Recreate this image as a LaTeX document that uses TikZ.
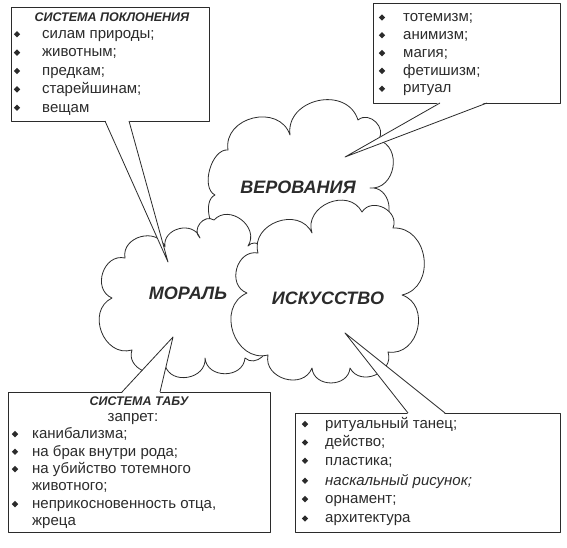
\documentclass[tikz,border=0pt]{standalone}
\usepackage{fontspec}
\setmainfont{Liberation Sans}
\usetikzlibrary{shapes.geometric}
\definecolor{ink}{HTML}{2B2B2B}
\tikzset{
  outl/.style={draw=ink, line width=0.8pt, line join=round},
  cloudpath/.style={outl, fill=white},
  boxnode/.style={outl, fill=white, anchor=north west, inner sep=0pt},
  itm/.style={anchor=base west, inner sep=0pt, text=ink, font=\fontsize{15}{18}\selectfont},
  head/.style={anchor=base, inner sep=0pt, text=ink, font=\fontsize{12.5}{15}\selectfont\bfseries\itshape},
  plain/.style={anchor=base, inner sep=0pt, text=ink, font=\fontsize{15}{18}\selectfont},
  lbl/.style={inner sep=0pt, text=ink, font=\fontsize{18}{20}\selectfont\bfseries\itshape},
  bul/.style={diamond, fill=ink, inner sep=0pt, minimum size=6.5pt},
  bump/.style={bend left=85, looseness=1.35},
  flat/.style={bend left=80, looseness=0.9},
}
\newcommand\bitem[5]{\node[bul] (#1b) at (#2,#4-4.2) {}; \node[itm] (#1) at (#3,#4) {#5};}
\begin{document}
\begin{tikzpicture}[x=1pt,y=-1pt]
\useasboundingbox (0,0) rectangle (567,547);
\fill[white] (0,0) rectangle (567,547);

% clouds
\draw[cloudpath] (215,195) to[flat] (228,150) to[bump] (290,135) to[bump] (358,120)
  to[bump] (378,140) to[bump] (370,188) to[bump] (378,225) to[bump] (330,250)
  to[bump] (270,252) to[bump] (224,234) to[flat] cycle;
\draw[cloudpath] (112,298) to[bump] (125,258) to[bump] (165,247) to[bump] (200,238)
  to[bump] (214,220) to[bump] (248,246) to[bump] (265,258) to[bump] (265,340)
  to[bump] (245,358) to[bump] (205,358) to[bump] (165,365) to[bump] (132,350) to[bump] cycle;
\draw[cloudpath] (247,293) to[bump] (258,253) to[bump] (312,233) to[bump] (362,212)
  to[bump] (393,228) to[bump] (402,295) to[bump] (388,352) to[bump] (350,368)
  to[bump] (312,368) to[bump] (268,355) to[bump] cycle;

\node[lbl] (ver) at (298,187) {ВЕРОВАНИЯ};
\node[lbl] (mor) at (188,293) {МОРАЛЬ};
\node[lbl] (isk) at (328,298) {ИСКУССТВО};

% boxes
\node[boxnode, minimum width=198pt, minimum height=114pt] (tlbox) at (11,7) {};
\node[boxnode, minimum width=187pt, minimum height=100pt] (trbox) at (373,3) {};
\node[boxnode, minimum width=262pt, minimum height=140pt] (blbox) at (8,392) {};
\node[boxnode, minimum width=265pt, minimum height=119pt] (brbox) at (295,413) {};

% callouts
\coordinate (tlA) at (105,121); \coordinate (tlB) at (129,121); \coordinate (tlT) at (168,262);
\coordinate (trA) at (440,103); \coordinate (trB) at (487,103); \coordinate (trT) at (345,157);
\coordinate (blA) at (122,392); \coordinate (blB) at (160,392); \coordinate (blT) at (173,337);
\coordinate (brA) at (408,413); \coordinate (brB) at (445,413); \coordinate (brT) at (345,333);
\foreach \c in {tl,tr}{
  \fill[white] ([yshift=1pt]\c A) -- (\c T) -- ([yshift=1pt]\c B) -- cycle;
  \draw[outl] (\c A) -- (\c T) -- (\c B);
}
\foreach \c in {bl,br}{
  \fill[white] ([yshift=-1pt]\c A) -- (\c T) -- ([yshift=-1pt]\c B) -- cycle;
  \draw[outl] (\c A) -- (\c T) -- (\c B);
}

% top-left text
\node[head] (tlh) at (112,21.5) {СИСТЕМА ПОКЛОНЕНИЯ};
\bitem{tl1}{17}{42}{38.5}{силам природы;}
\bitem{tl2}{17}{42}{56.8}{животным;}
\bitem{tl3}{17}{42}{75.2}{предкам;}
\bitem{tl4}{17}{42}{93.6}{старейшинам;}
\bitem{tl5}{17}{42}{112}{вещам}

% top-right text
\bitem{tr1}{382}{403}{21.7}{тотемизм;}
\bitem{tr2}{382}{403}{39.5}{анимизм;}
\bitem{tr3}{382}{403}{57.3}{магия;}
\bitem{tr4}{382}{403}{75.1}{фетишизм;}
\bitem{tr5}{382}{403}{92.9}{ритуал}

% bottom-left text
\node[head] (blh) at (139,405) {СИСТЕМА ТАБУ};
\node[plain] (blz) at (133,421.7) {запрет:};
\bitem{bl1}{15}{32}{438.3}{канибализма;}
\bitem{bl2}{15}{32}{456}{на брак внутри рода;}
\bitem{bl3}{15}{32}{473.3}{на убийство тотемного}
\node[itm] (bl3c) at (32,490.7) {животного;};
\bitem{bl4}{15}{32}{508.3}{неприкосновенность отца,}
\node[itm] (bl4c) at (32,525.7) {жреца};

% bottom-right text
\bitem{br1}{305}{325}{428.3}{ритуальный танец;}
\bitem{br2}{305}{325}{446.7}{действо;}
\bitem{br3}{305}{325}{465}{пластика;}
\bitem{br4}{305}{325}{485}{\itshape наскальный рисунок;}
\bitem{br5}{305}{325}{503.3}{орнамент;}
\bitem{br6}{305}{325}{522.7}{архитектура}
\end{tikzpicture}
\end{document}
